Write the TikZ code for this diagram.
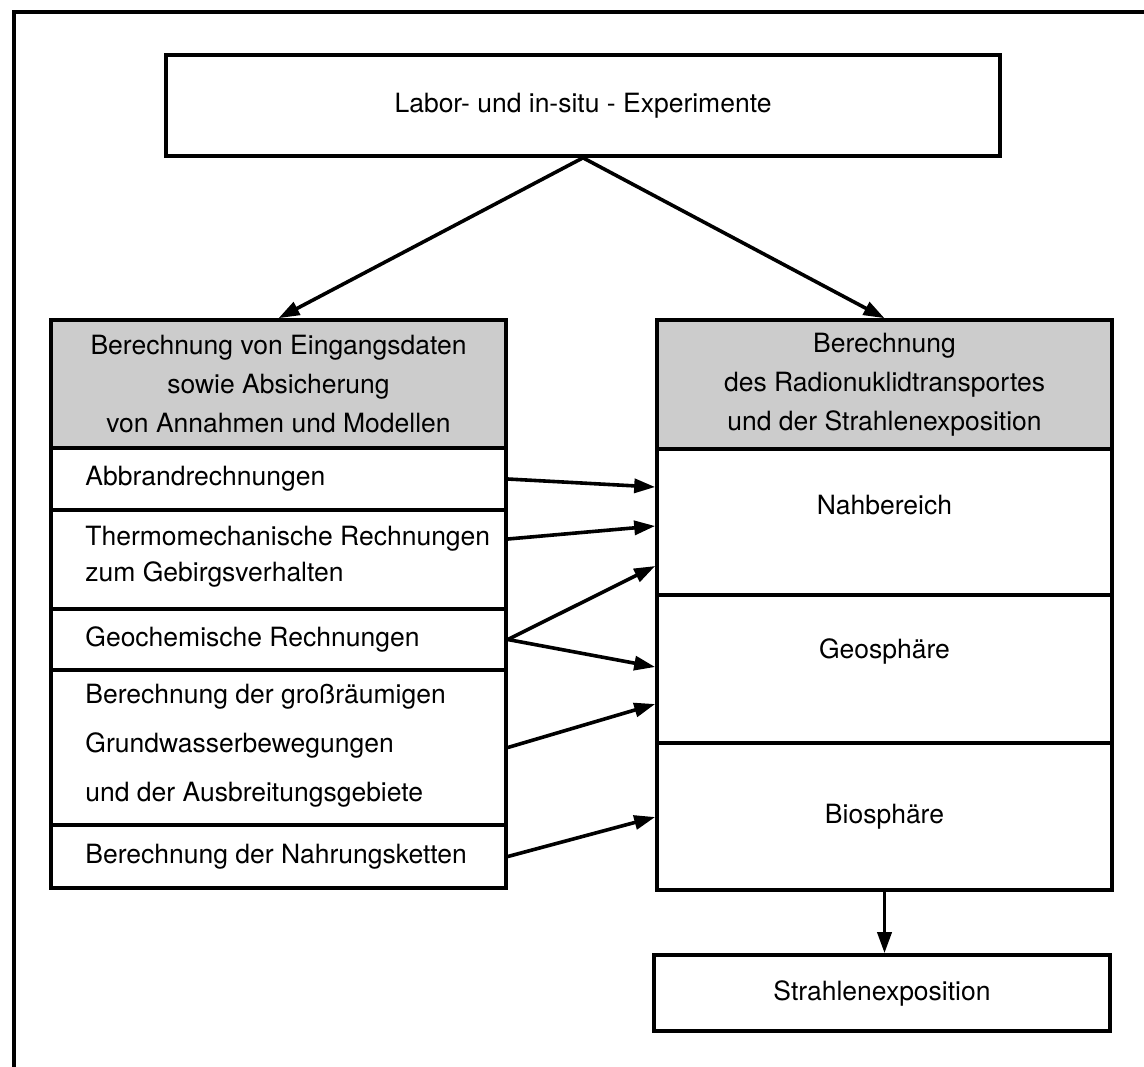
\documentclass[tikz,border=0pt]{standalone}
\usepackage{fontspec}
\setmainfont{TeX Gyre Heros}
\usetikzlibrary{arrows.meta,calc}
\begin{document}
\begin{tikzpicture}[x=0.5pt,y=-0.5pt,
  txt/.style={font=\fontsize{13.25}{19.5}\selectfont},
  box/.style={draw,line width=1.8pt,inner sep=0pt,align=center,txt},
  head/.style={box,fill=gray!40,minimum width=227.5pt,minimum height=64pt},
  cell/.style={box,minimum width=227.5pt,minimum height=#1},
  lbl/.style={txt,inner sep=0pt},
  ltxt/.style={lbl,anchor=west,align=left},
  arr/.style={line width=1.8pt,-{Triangle[length=10.5pt,width=7pt]}}
]
% page and outer frame
\fill[white] (0,0) rectangle (1144,1066);
\useasboundingbox (0,0) rectangle (1144,1066);
\draw[line width=1.7pt] (14,1070) -- (14,12) -- (1150,12);

% top box
\node[box,minimum width=417pt,minimum height=50.5pt] (top) at (583,105.5)
  {Labor- und in-situ - Experimente};

% left column
\node[head] (lhead) at (278.5,384)
  {Berechnung von Eingangsdaten\\sowie Absicherung\\von Annahmen und Modellen};
\node[cell=31pt] (abb) at (278.5,479) {};
\node[ltxt] (abbT) at (85,479) {Abbrandrechnungen};
\node[cell=49.5pt] (thermo) at (278.5,559.5) {};
\node[ltxt,font=\fontsize{13.25}{18}\selectfont] (thermoT) at (85,557)
  {Thermomechanische Rechnungen\\zum Gebirgsverhalten};
\node[cell=30.5pt] (geo) at (278.5,639.5) {};
\node[ltxt] (geoT) at (85,639.5) {Geochemische Rechnungen};
\node[cell=77.5pt] (grund) at (278.5,747.5) {};
\node[ltxt,font=\fontsize{13.25}{24.5}\selectfont] (grundT) at (85,746)
  {Berechnung der großräumigen\\Grundwasserbewegungen\\und der Ausbreitungsgebiete};
\node[cell=31.5pt] (nahr) at (278.5,856.5) {};
\node[ltxt] (nahrT) at (85,856.5) {Berechnung der Nahrungsketten};

% right column
\node[head,minimum height=64.5pt] (rhead) at (884.5,384.5)
  {Berechnung\\des Radionuklidtransportes\\und der Strahlenexposition};
\node[cell=73pt] (nah) at (884.5,522) {};
\node[lbl] (nahT) at (884.5,505) {Nahbereich};
\node[cell=74pt] (geos) at (884.5,669) {};
\node[lbl] (geosT) at (884.5,651) {Geosphäre};
\node[cell=73.5pt] (bios) at (884.5,816.5) {Biosphäre};

% result box
\node[box,minimum width=228pt,minimum height=38pt] (strahl) at (882,993)
  {Strahlenexposition};

% connectors
\draw[arr] (top.south) -- (lhead.north);
\draw[arr] (top.south) -- (rhead.north);
\draw[arr] (abb.east) -- ($(nah.west)+(0,-35)$);
\draw[arr] ($(thermo.east)+(0,-20.5)$) -- ($(nah.west)+(0,4)$);
\draw[arr] (geo.east) -- ($(nah.west)+(0,44)$);
\draw[arr] (geo.east) -- ($(geos.west)+(0,-2)$);
\draw[arr] (grund.east) -- ($(geos.west)+(0,35)$);
\draw[arr] (nahr.east) -- ($(bios.west)+(0,0.5)$);
\draw[arr] (bios.south) -- (bios.south |- strahl.north);
\end{tikzpicture}
\end{document}
